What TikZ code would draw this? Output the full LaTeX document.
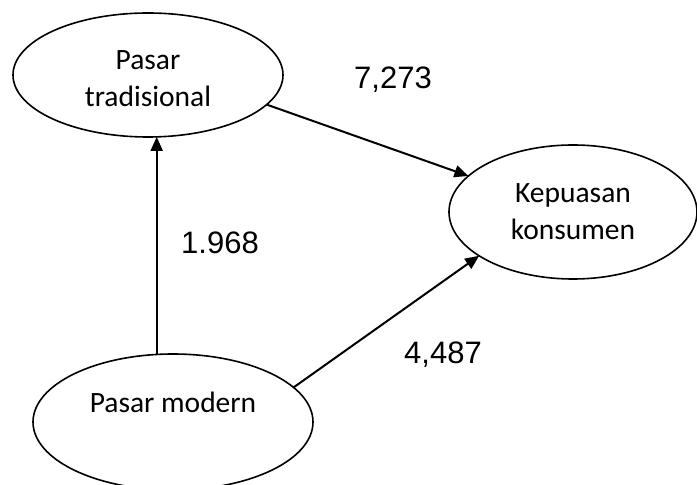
\documentclass[tikz,border=0pt]{standalone}
\usepackage{fontspec}
\setmainfont{Carlito}
\newfontfamily\numfont{Liberation Sans}
\usetikzlibrary{shapes.geometric,arrows.meta}
\begin{document}
\begin{tikzpicture}[x=1pt,y=1pt,
  var/.style={ellipse,draw,line width=1.6pt,inner sep=0pt,outer sep=0pt},
  vartext/.style={font=\fontsize{29.5}{37}\selectfont,align=center},
  link/.style={line width=2pt,-{Triangle[length=14pt,width=12pt]}},
  coef/.style={font=\numfont\fontsize{31}{36}\selectfont}]
\useasboundingbox (0,0) rectangle (697,485);
\fill[white] (0,0) rectangle (697,485);
% constructs
\node[var,minimum width=270pt,minimum height=124pt,
  label={[vartext,yshift=-4pt]center:Pasar\\tradisional}] (trad) at (148,410) {};
\node[var,minimum width=248pt,minimum height=134pt,
  label={[vartext,yshift=0pt]center:Kepuasan\\konsumen}] (puas) at (573,273) {};
\node[var,minimum width=280pt,minimum height=136pt,
  label={[vartext,yshift=20pt]center:Pasar modern}] (mod) at (173,63) {};
% paths
\draw[link] (trad.-82.6 |- mod.north) -- (trad.-82.6);
\draw[link] (trad.-14.7) -- (puas.161.7);
\draw[link] (mod.16.3) -- (puas.205.4);
% path coefficients
\node[coef] (c1) at (393,405) {7,273};
\node[coef] (c2) at (220,242) {1.968};
\node[coef] (c3) at (443,130) {4,487};
\end{tikzpicture}
\end{document}
